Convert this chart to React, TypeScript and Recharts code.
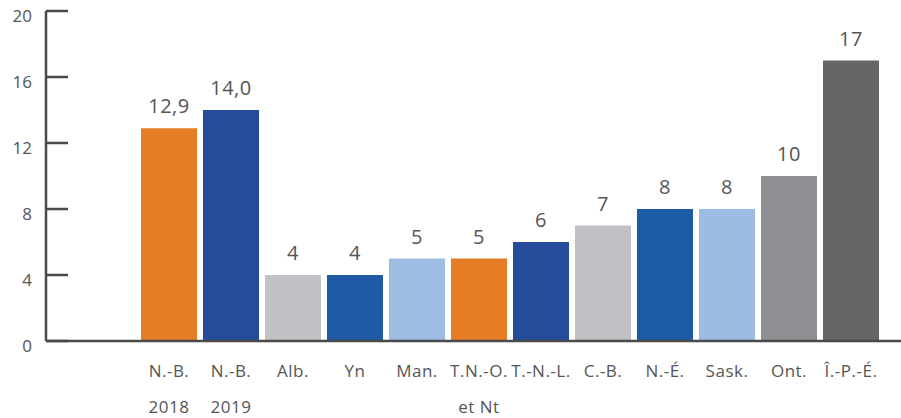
import React from 'react';
import { BarChart, Bar, XAxis, YAxis, Cell, LabelList } from 'recharts';

// Provinces and territories, two-line labels split on "\n"
const categories = [
  'N.-B.\n2018',
  'N.-B.\n2019',
  'Alb.',
  'Yn',
  'Man.',
  'T.N.-O.\net Nt',
  'T.-N.-L.',
  'C.-B.',
  'N.-É.',
  'Sask.',
  'Ont.',
  'Î.-P.-É.',
];
const values = [12.9, 14.0, 4, 4, 5, 5, 6, 7, 8, 8, 10, 17];
const valueLabels = ['12,9', '14,0', '4', '4', '5', '5', '6', '7', '8', '8', '10', '17'];
const barColors = [
  '#E47D24',
  '#244C9A',
  '#C2C2C6',
  '#1E5AA5',
  '#9DBDE2',
  '#E47D24',
  '#244C9A',
  '#C0C0C4',
  '#1E5BA6',
  '#9CBCE2',
  '#8E9094',
  '#666666',
];
const yTicks = [0, 4, 8, 12, 16, 20];

const data = categories.map((name, i) => ({
  name,
  value: values[i],
  label: valueLabels[i],
}));

const FONT = '"Open Sans", "DejaVu Sans", sans-serif';
const TEXT_COLOR = '#555555';
const AXIS_COLOR = '#4a4a4a';

const YTick = (props: any) => {
  const { x, y, payload } = props;
  return (
    <text
      x={x}
      y={y}
      dy={11}
      textAnchor="end"
      fontFamily={FONT}
      fontSize={17}
      fill={TEXT_COLOR}
    >
      {payload.value}
    </text>
  );
};

const XTick = (props: any) => {
  const { x, y, payload } = props;
  const lines = String(payload.value).split('\n');
  return (
    <text
      x={x}
      y={y}
      textAnchor="middle"
      fontFamily={FONT}
      fontSize={17}
      letterSpacing={0.5}
      fill={TEXT_COLOR}
    >
      {lines.map((line, i) => (
        <tspan key={i} x={x} dy={i === 0 ? 28 : 36}>
          {line}
        </tspan>
      ))}
    </text>
  );
};

export default function App() {
  return (
    <div style={{ position: 'absolute', left: 0, top: 0 }}>
      <BarChart
        width={901}
        height={418}
        data={data}
        margin={{ top: 11, right: 0, bottom: 0, left: 0 }}
      >
        <XAxis
          dataKey="name"
          height={77}
          interval={0}
          padding={{ left: 92, right: 19 }}
          axisLine={{ stroke: AXIS_COLOR, strokeWidth: 2.5 }}
          tickLine={false}
          tick={<XTick />}
        />
        <YAxis
          width={46}
          domain={[0, 20]}
          ticks={yTicks}
          interval={0}
          axisLine={{ stroke: AXIS_COLOR, strokeWidth: 2.5 }}
          tickLine={{ stroke: AXIS_COLOR, strokeWidth: 2.5 }}
          tickSize={-22}
          tickMargin={36}
          tick={<YTick />}
        />
        <Bar dataKey="value" barSize={56} isAnimationActive={false}>
          {data.map((_, i) => (
            <Cell key={i} fill={barColors[i]} />
          ))}
          <LabelList
            dataKey="label"
            position="top"
            offset={15}
            fontFamily={FONT}
            fontSize={20}
            letterSpacing={0.5}
            fill={TEXT_COLOR}
          />
        </Bar>
      </BarChart>
    </div>
  );
}
